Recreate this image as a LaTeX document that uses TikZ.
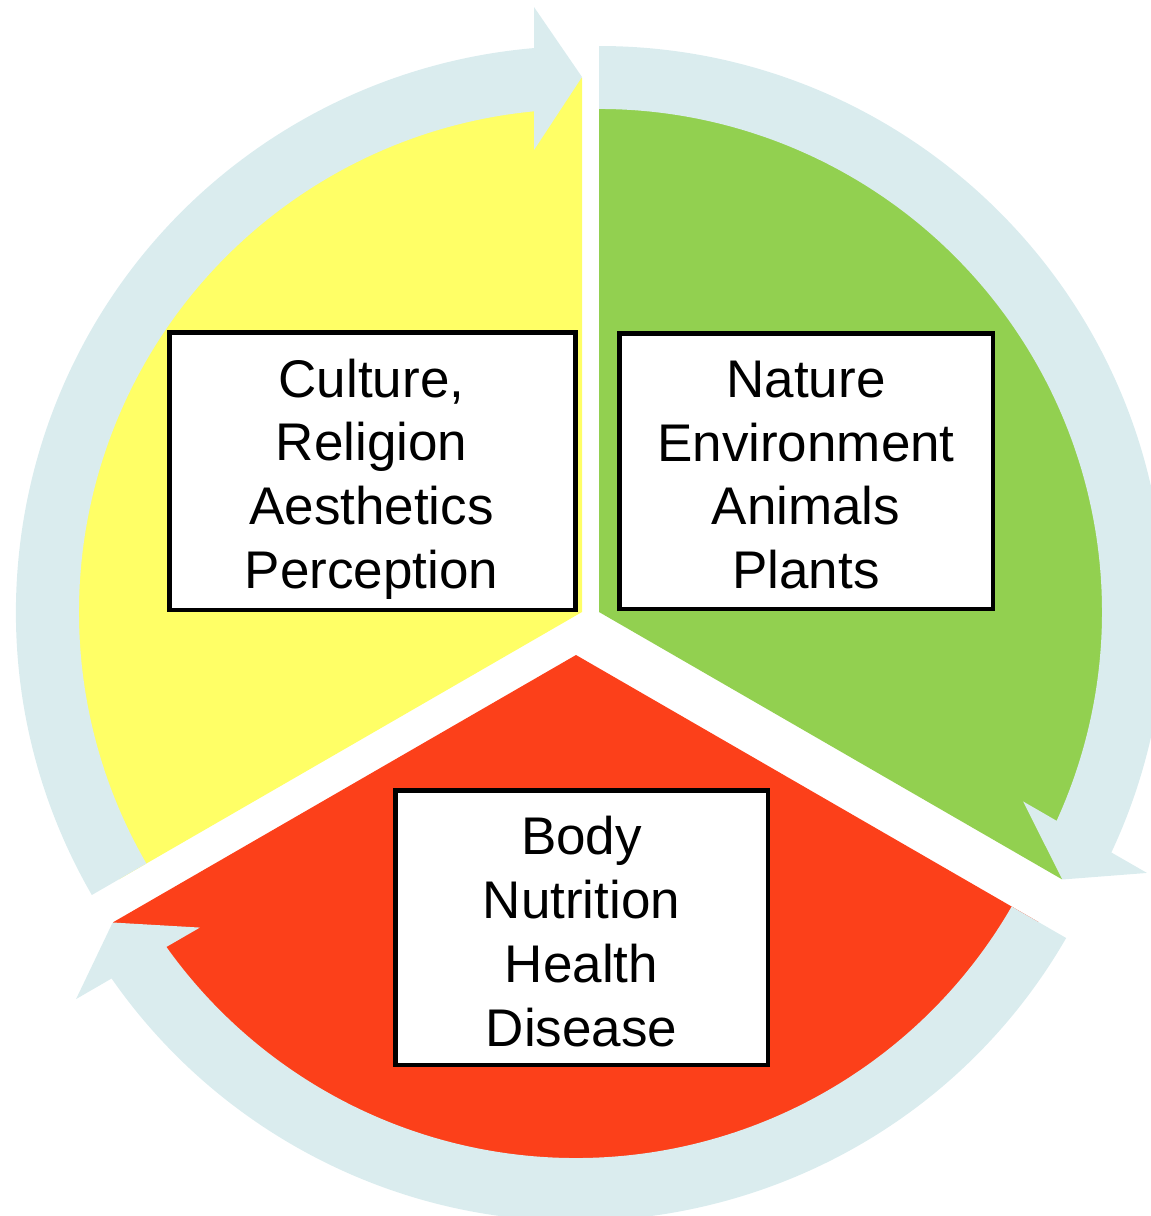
\documentclass[tikz,border=0pt]{standalone}
\usepackage{fontspec}
\setmainfont{Liberation Sans}
\definecolor{bandc}{HTML}{DAECEE}
\definecolor{yelc}{HTML}{FFFF66}
\definecolor{grnc}{HTML}{92D050}
\definecolor{redc}{HTML}{FC401A}
\newcommand{\cycseg}[3]{%
  \begin{scope}[shift={#1}, rotate=#2]
    \fill[#3] (0,0) -- (0:534.5) arc[start angle=0, end angle=120, radius=534.5] -- cycle;
    \fill[bandc] (120:566) arc[start angle=120, end angle=4.86, radius=566]
      -- (605,48) -- (535,0) -- (462,48) -- (500.7,48)
      arc[start angle=5.47, end angle=120, radius=503] -- cycle;
  \end{scope}}
\tikzset{
  box/.style={draw=black, line width=4.5pt, fill=white, rectangle, inner sep=0pt},
  txt/.style={align=center, inner sep=0pt, font=\fontsize{53}{63.7}\selectfont}
}
\begin{document}
\begin{tikzpicture}[x=1pt, y=1pt]
  \useasboundingbox (0,0) rectangle (1151,-1216);
  \clip (0,0) rectangle (1151,-1216);
  \cycseg{(582,-612)}{90}{yelc}
  \cycseg{(599,-612)}{-30}{grnc}
  \cycseg{(576,-655)}{210}{redc}
  \node[box, minimum width=406pt, minimum height=277.5pt] (cultbox) at (372.5,-471) {};
  \node[txt] (culttxt) at ([xshift=-1pt, yshift=-8pt]cultbox.center) {Culture,\\Religion\\Aesthetics\\Perception};
  \node[box, minimum width=373.5pt, minimum height=275.5pt] (natbox) at (806,-471) {};
  \node[txt] (nattxt) at ([yshift=-4pt]natbox.center) {Nature\\Environment\\Animals\\Plants};
  \node[box, minimum width=372.5pt, minimum height=274.5pt] (bodybox) at (581.5,-927.5) {};
  \node[txt] (bodytxt) at ([yshift=-4pt]bodybox.center) {Body\\Nutrition\\Health\\Disease};
\end{tikzpicture}
\end{document}
